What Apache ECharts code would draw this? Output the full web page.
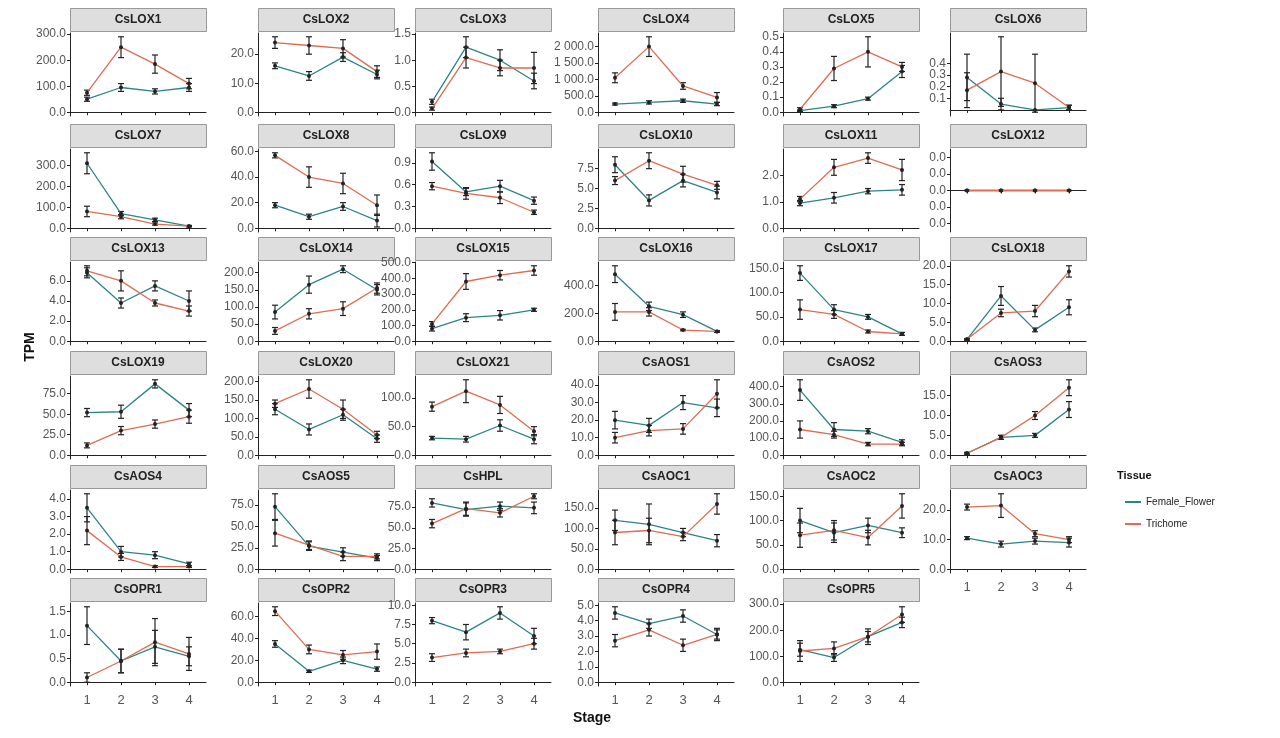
<!DOCTYPE html>
<html><head><meta charset="utf-8">
<script src="https://cdn.jsdelivr.net/npm/echarts@6/dist/echarts.min.js"></script>
<style>html,body{margin:0;padding:0;background:#fff}#c{width:1280px;height:738px}</style>
</head><body><div id="c"></div>
<script>
const stages = [1, 2, 3, 4];
const panelNames = ['CsLOX1','CsLOX2','CsLOX3','CsLOX4','CsLOX5','CsLOX6','CsLOX7','CsLOX8','CsLOX9','CsLOX10','CsLOX11','CsLOX12','CsLOX13','CsLOX14','CsLOX15','CsLOX16','CsLOX17','CsLOX18','CsLOX19','CsLOX20','CsLOX21','CsAOS1','CsAOS2','CsAOS3','CsAOS4','CsAOS5','CsHPL','CsAOC1','CsAOC2','CsAOC3','CsOPR1','CsOPR2','CsOPR3','CsOPR4','CsOPR5'];
const femaleMeans = [
 [50,95,80,95],[16,12.5,19,13],[0.2,1.25,1.0,0.6],[250,300,350,250],[0.01,0.04,0.09,0.27],[0.28,0.05,0,0.02],
 [310,70,40,10],[18,9,17,6],[0.92,0.5,0.58,0.38],[8,3.5,6,4.5],[0.95,1.15,1.4,1.45],[0,0,0,0],
 [6.8,3.8,5.5,4],[85,165,210,150],[80,150,165,200],[480,250,190,70],[140,65,50,15],[0.5,12,3,9],
 [52,53,87,55],[125,70,110,45],[30,28,52,28],[20,17,30,27],[380,150,140,75],[0.5,4.5,5,11.5],
 [3.5,1,0.8,0.3],[73,27,20,13],[80,72,76,74],[120,110,90,70],[100,75,90,75],[10.5,8.5,9.5,9],
 [1.2,0.45,0.75,0.55],[35,10,20,12],[8,6.5,9,6],[4.5,3.8,4.3,3.1],[125,95,175,230]];
const femaleErrs = [
 [8,15,10,15],[1,1.5,1.5,1.5],[0.05,0.2,0.2,0.15],[30,50,50,50],[0.005,0.01,0.01,0.04],[0.2,0.05,0,0.02],
 [50,10,8,3],[2,2,3,5],[0.12,0.05,0.08,0.05],[1,0.7,0.8,0.8],[0.1,0.2,0.1,0.2],[0,0,0,0],
 [0.5,0.5,0.5,1],[20,25,10,15],[15,25,30,10],[60,30,20,5],[15,10,5,3],[0.2,2.5,0.5,2],
 [5,8,5,8],[15,15,15,10],[3,5,10,8],[5,4,4,5],[60,40,15,15],[0.2,0.5,0.5,2],
 [0.8,0.3,0.2,0.1],[15,5,5,3],[5,8,5,7],[25,50,10,15],[25,20,15,10],[0.5,1,1,1.5],
 [0.4,0.25,0.35,0.2],[3,1,3,2],[0.4,1,0.8,1],[0.4,0.3,0.4,0.3],[25,15,20,20]];
const trichomeMeans = [
 [75,250,185,110],[24,23,22,14],[0.07,1.05,0.85,0.85],[1050,2000,800,450],[0.02,0.29,0.40,0.30],[0.17,0.33,0.23,0.02],
 [80,55,20,10],[57,40,35,18],[0.58,0.48,0.42,0.22],[6,8.5,6.8,5.4],[1.1,2.3,2.65,2.2],[0,0,0,0],
 [7,6,3.8,3],[30,80,95,155],[110,380,420,450],[210,210,80,70],[65,55,20,15],[0.5,7.5,8,18.5],
 [12,30,38,47],[140,180,125,55],[85,112,88,42],[10,14,15,35],[150,120,65,65],[0.5,4.5,10,17],
 [2.2,0.7,0.15,0.15],[42,28,15,15],[55,73,68,88],[90,95,80,160],[70,80,65,130],[21,21.5,12,10],
 [0.1,0.45,0.85,0.6],[65,30,25,28],[3.2,3.8,4,5],[2.7,3.4,2.4,3.1],[120,130,175,260]];
const trichomeErrs = [
 [10,40,35,20],[2,3,3,2],[0.03,0.2,0.15,0.3],[150,300,100,150],[0.01,0.08,0.1,0.03],[0.15,0.3,0.25,0.02],
 [25,10,5,3],[2,8,8,8],[0.05,0.08,0.08,0.03],[0.5,1,1,0.5],[0.1,0.3,0.2,0.4],[0,0,0,0],
 [0.5,1,0.3,0.5],[10,15,20,15],[15,50,30,30],[60,30,5,5],[20,8,3,3],[0.2,1,1.5,1.5],
 [3,5,5,8],[10,25,25,10],[8,20,15,8],[3,3,3,8],[50,20,10,10],[0.2,0.5,1,2],
 [0.8,0.2,0.05,0.05],[15,5,5,3],[5,8,5,3],[30,30,10,25],[25,20,15,25],[1,4,1,1],
 [0.1,0.25,0.5,0.35],[4,4,4,7],[0.5,0.5,0.3,0.7],[0.4,0.4,0.4,0.4],[40,25,30,30]];
const tickSets = [
 [0,100,200,300],[0,10,20],[0,0.5,1,1.5],[0,500,1000,1500,2000],[0,0.1,0.2,0.3,0.4,0.5],[0,0.1,0.2,0.3,0.4,0.5],
 [0,100,200,300],[0,20,40,60],[0,0.3,0.6,0.9],[0,2.5,5,7.5,10],[0,1,2,3],[-0.04,-0.02,0,0.02,0.04],
 [0,2,4,6],[0,50,100,150,200],[0,100,200,300,400,500],[0,200,400],[0,50,100,150],[0,5,10,15,20],
 [0,25,50,75],[0,50,100,150,200],[0,50,100],[0,10,20,30,40],[0,100,200,300,400],[0,5,10,15,20],
 [0,1,2,3,4],[0,25,50,75],[0,25,50,75],[0,50,100,150],[0,50,100,150],[0,10,20],
 [0,0.5,1,1.5],[0,20,40,60],[0,2.5,5,7.5,10],[0,1,2,3,4,5],[0,100,200,300]];

const colFemale = '#2b8585', colTri = '#e06b52';
const colLeft = [70,258,415,598,783,950], panelW = 136;
const rowTop = [8,124,237,351,465,578], headH = 23, plotH = 83;

function fmt(v){
  let s = Math.abs(v) < 1e-9 ? '0.0' : v.toFixed(1);
  const p = s.split('.');
  p[0] = p[0].replace(/\B(?=(\d{3})+(?!\d))/g, ' ');
  return p.join('.');
}
function errRender(){
  return function(params, api){
    const x = api.value(0), lo = api.value(1), hi = api.value(2);
    const a = api.coord([x, lo]), b = api.coord([x, hi]);
    const st = {stroke:'#222', lineWidth:1.2};
    return {type:'group', children:[
      {type:'line', shape:{x1:a[0],y1:a[1],x2:b[0],y2:b[1]}, style:st},
      {type:'line', shape:{x1:a[0]-3,y1:a[1],x2:a[0]+3,y2:a[1]}, style:st},
      {type:'line', shape:{x1:b[0]-3,y1:b[1],x2:b[0]+3,y2:b[1]}, style:st}
    ]};
  };
}

const grids=[], xAxes=[], yAxes=[], series=[], graphics=[];
panelNames.forEach((name,i)=>{
  const r = Math.floor(i/6), c = i%6;
  const left = colLeft[c], top = rowTop[r] + headH + 2;
  grids.push({left:left, top:top, width:panelW, height:plotH});
  const bottomLabel = (r===5) || (r===4 && c===5);
  xAxes.push({gridIndex:i, type:'value', min:0.5, max:4.5, interval:1,
    axisLine:{show:true, lineStyle:{color:'#222'}}, axisTick:{show:true, length:3, lineStyle:{color:'#222'}, customValues:stages},
    axisLabel:{show:bottomLabel, customValues:stages, color:'#555', fontSize:13, fontFamily:'Liberation Sans'}, splitLine:{show:false}});
  const fm=femaleMeans[i], fe=femaleErrs[i], tm=trichomeMeans[i], te=trichomeErrs[i];
  let lo=0, hi=0;
  for(let k=0;k<4;k++){lo=Math.min(lo,fm[k]-fe[k],tm[k]-te[k]);hi=Math.max(hi,fm[k]+fe[k],tm[k]+te[k]);}
  let ymin, ymax;
  if(hi-lo<1e-9){ymin=-0.05; ymax=0.05;} else {const pad=(hi-lo)*0.05; ymin=lo-pad; ymax=hi+pad;}
  const ticks = tickSets[i].filter(t=>t>=ymin && t<=ymax);
  yAxes.push({gridIndex:i, type:'value', min:ymin, max:ymax,
    axisLine:{show:true, lineStyle:{color:'#222'}}, axisTick:{show:true, length:3, lineStyle:{color:'#222'}, customValues:ticks},
    axisLabel:{customValues:ticks, formatter:(v)=> name==='CsLOX12' ? '0.0' : fmt(v), color:'#555', fontSize:12, fontFamily:'Liberation Sans', margin:4},
    splitLine:{show:false}});
  [[fm,fe,colFemale,'Female_Flower'],[tm,te,colTri,'Trichome']].forEach(([m,e,col,nm])=>{
    series.push({type:'custom', xAxisIndex:i, yAxisIndex:i, renderItem:errRender(), silent:true, z:3,
      data: stages.map((s,k)=>[s, m[k]-e[k], m[k]+e[k]])});
    series.push({name:nm, type:'line', xAxisIndex:i, yAxisIndex:i, z:4, color:col,
      data: stages.map((s,k)=>[s, m[k]]), symbol:'circle', symbolSize:4, showSymbol:true,
      lineStyle:{color:col, width:1.3}, itemStyle:{color:'#222'}});
  });
  graphics.push({type:'rect', left:left, top:rowTop[r], shape:{width:panelW, height:headH},
    style:{fill:'#dedede', stroke:'#999', lineWidth:1}});
  graphics.push({type:'text', x:left+panelW/2, y:rowTop[r]+headH/2,
    style:{text:name, align:'center', verticalAlign:'middle', font:'bold 12px "Liberation Sans"', fill:'#222'}});
});
graphics.push({type:'text', x:30, y:347, rotation:Math.PI/2, style:{text:'TPM', align:'center', verticalAlign:'middle', font:'bold 14px "Liberation Sans"', fill:'#111'}});
graphics.push({type:'text', x:592, y:718, style:{text:'Stage', align:'center', verticalAlign:'middle', font:'bold 14px "Liberation Sans"', fill:'#111'}});
graphics.push({type:'text', x:1117, y:476, style:{text:'Tissue', align:'left', verticalAlign:'middle', font:'bold 11px "Liberation Sans"', fill:'#111'}});

const chart = echarts.init(document.getElementById('c'));
chart.setOption({
  animation:false,
  grid:grids, xAxis:xAxes, yAxis:yAxes, series:series, graphic:graphics,
  legend:{data:[{name:'Female_Flower', icon:'rect', itemStyle:{color:colFemale}},{name:'Trichome', icon:'rect', itemStyle:{color:colTri}}], orient:'vertical', left:1120, top:492,
    itemWidth:16, itemHeight:2, itemGap:12, textStyle:{fontSize:10, color:'#222', fontFamily:'Liberation Sans'}, selectedMode:false}
});
</script></body></html>
